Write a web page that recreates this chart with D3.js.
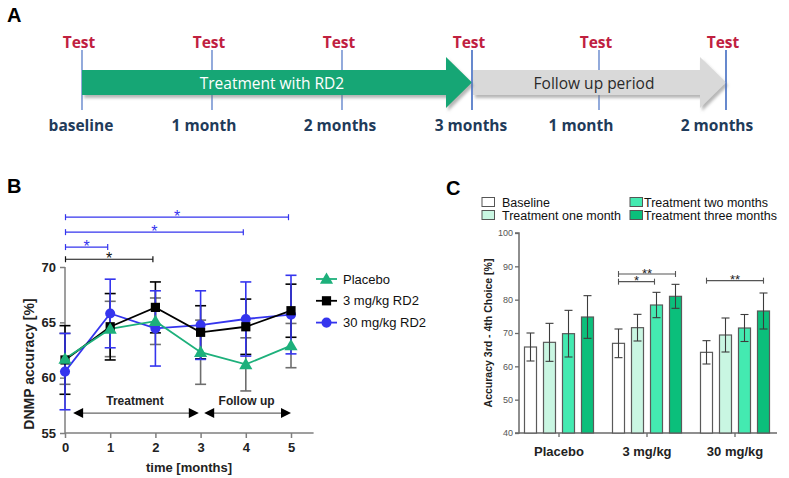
<!DOCTYPE html>
<html><head><meta charset="utf-8">
<script src="https://cdn.jsdelivr.net/npm/d3@7"></script>
<style>body{margin:0;background:#fff}svg{display:block}</style>
</head><body>
<svg id="chart" width="789" height="478"></svg>
<script>
// ---------- Panel A data ----------
const timelineMonths = [0, 1, 2, 3, 4, 5];
const timelineTests = ["Test", "Test", "Test", "Test", "Test", "Test"];
const timelineLabels = ["baseline", "1 month", "2 months", "3 months", "1 month", "2 months"];
const phaseNames = ["Treatment with RD2", "Follow up period"];
const phaseRanges = [[0, 3], [3, 5]];

// ---------- Panel B data ----------
const monthsB = [0, 1, 2, 3, 4, 5];
const seriesB = ["Placebo", "3 mg/kg RD2", "30 mg/kg RD2"];
const placeboMean = [61.7, 64.4, 65.1, 62.3, 61.2, 62.9];
const placeboErr  = [2.3, 2.5, 2.1, 2.9, 2.4, 2.0];
const mg3Mean     = [61.6, 64.6, 66.35, 64.1, 64.6, 66.05];
const mg3Err      = [3.1, 3.0, 2.3, 2.4, 2.5, 2.4];
const mg30Mean    = [60.55, 65.8, 64.45, 64.75, 65.3, 65.7];
const mg30Err     = [3.45, 3.1, 3.4, 3.1, 3.35, 3.55];
const yTicksB = [55, 60, 65, 70];
const xTicksB = [0, 1, 2, 3, 4, 5];
const sigFromB  = [0, 0, 0, 0];
const sigToB    = [5, 4, 1, 2];
const sigLevelB = [74.5, 73.15, 71.8, 70.7];
const sigSeriesB = [2, 2, 2, 1];
const sigLabelB = ["*", "*", "*", "*"];
const periodNamesB = ["Treatment", "Follow up"];
const periodRangesB = [[0.18, 2.96], [3.08, 5.0]];

// ---------- Panel C data ----------
const groupsC = ["Placebo", "3 mg/kg", "30 mg/kg"];
const seriesC = ["Baseline", "Treatment one month", "Treatment two months", "Treatment three months"];
const baselineC   = [65.8, 66.9, 64.2];
const oneMonthC   = [67.2, 71.6, 69.4];
const twoMonthC   = [69.8, 78.4, 71.5];
const threeMonthC = [74.8, 81.0, 76.6];
const baselineErrC   = [4.2, 4.3, 3.5];
const oneMonthErrC   = [5.7, 4.0, 5.1];
const twoMonthErrC   = [7.0, 3.8, 4.05];
const threeMonthErrC = [6.4, 3.6, 5.4];
const yTicksC = [40, 50, 60, 70, 80, 90, 100];
const sigGroupC = [1, 1, 2];
const sigFromC = [0, 0, 0];
const sigToC = [3, 2, 3];
const sigLevelC = [87.7, 85.4, 85.7];
const sigLabelC = ["**", "*", "**"];

// ---------- drawing ----------
const svg = d3.select("#chart");
const AR = "Arial, 'Liberation Sans', sans-serif";
const OS = "'Open Sans', 'Noto Sans', sans-serif";

// defs
const defs = svg.append("defs");
const f = defs.append("filter").attr("id", "shadow").attr("x", "-10%").attr("y", "-30%").attr("width", "130%").attr("height", "180%");
f.append("feDropShadow").attr("dx", 2).attr("dy", 3).attr("stdDeviation", 1.8).attr("flood-color", "#7a7a7a").attr("flood-opacity", 0.55);

// ===== Panel A =====
svg.append("text").attr("x", 7).attr("y", 22).attr("font-family", AR).attr("font-weight", "bold").attr("font-size", 20).text("A");
const xA = d3.scaleLinear().domain([0, 3, 5]).range([82, 472, 726]);
const cyA = 82.5;
const gA = svg.append("g");
// test lines
gA.selectAll("line.tl").data(timelineMonths).join("line")
  .attr("x1", d => xA(d)).attr("x2", d => xA(d)).attr("y1", 50).attr("y2", 110)
  .attr("stroke", "#4a72c4").attr("stroke-width", 1.2);
// arrows
const arrowColors = ["#12a674", "#d9d9d9"];
const arrowPath = (x0, tip) => {
  const hs = tip - 26, bh = 12.5, hh = 25.5;
  return `M${x0},${cyA - bh}L${hs},${cyA - bh}L${hs},${cyA - hh}L${tip},${cyA}L${hs},${cyA + hh}L${hs},${cyA + bh}L${x0},${cyA + bh}Z`;
};
[1, 0].forEach(i => {
  gA.append("path").attr("d", arrowPath(xA(phaseRanges[i][0]) + (i === 1 ? 1 : 0), xA(phaseRanges[i][1])))
    .attr("fill", arrowColors[i]).attr("filter", "url(#shadow)");
});
// re-draw lines visible at tips
gA.selectAll("line.tip").data([3, 5]).join("line")
  .attr("x1", d => xA(d)).attr("x2", d => xA(d)).attr("y1", 50).attr("y2", 110)
  .attr("stroke", "#4a72c4").attr("stroke-width", 1.2);
gA.selectAll("text.phase").data(phaseNames).join("text")
  .attr("x", (d, i) => (xA(phaseRanges[i][0]) + xA(phaseRanges[i][1])) / 2 - 5)
  .attr("y", 88.5).attr("text-anchor", "middle")
  .attr("font-family", OS).attr("font-size", 15.5)
  .attr("fill", (d, i) => i === 0 ? "#ffffff" : "#2a2a2a").text(d => d);
gA.selectAll("text.test").data(timelineTests).join("text")
  .attr("x", (d, i) => xA(timelineMonths[i]) - 3).attr("y", 48).attr("text-anchor", "middle")
  .attr("font-family", OS).attr("font-weight", "bold").attr("font-size", 15.5)
  .attr("fill", "#c0203f").text(d => d);
const labelDx = [-1, -8, -2, -1, -18, -9];
gA.selectAll("text.tlab").data(timelineLabels).join("text")
  .attr("x", (d, i) => xA(timelineMonths[i]) + labelDx[i]).attr("y", 131).attr("text-anchor", "middle")
  .attr("font-family", OS).attr("font-weight", "bold").attr("font-size", 15.5)
  .attr("fill", "#1f3b5a").text(d => d);

// ===== Panel B =====
svg.append("text").attr("x", 7).attr("y", 193).attr("font-family", AR).attr("font-weight", "bold").attr("font-size", 20).text("B");
const xB = d3.scaleLinear().domain([0, 5.5]).range([65, 313.6]);
const yB = d3.scaleLinear().domain([55, 70]).range([433, 267]);
const axisCol = "#7f7f7f";
const gyB = svg.append("g").attr("transform", `translate(${xB(0)},0)`)
  .call(d3.axisLeft(yB).tickValues(yTicksB).tickSize(5).tickFormat(d3.format("d")));
const gxB = svg.append("g").attr("transform", `translate(0,${yB(55)})`)
  .call(d3.axisBottom(xB).tickValues(xTicksB).tickSize(5).tickFormat(d3.format("d")));
[gyB, gxB].forEach(g => {
  g.selectAll("path,line").attr("stroke", axisCol).attr("stroke-width", 1.5);
  g.select(".domain").attr("d", null);
  g.selectAll("text").attr("font-family", AR).attr("font-weight", "bold").attr("font-size", 13).attr("fill", "#222");
});
gyB.select(".domain").remove();
gxB.select(".domain").remove();
svg.append("line").attr("x1", xB(0)).attr("x2", xB(0)).attr("y1", yB(70)).attr("y2", yB(55)).attr("stroke", axisCol).attr("stroke-width", 1.5);
svg.append("line").attr("x1", xB(0)).attr("x2", xB(5.5)).attr("y1", yB(55)).attr("y2", yB(55)).attr("stroke", axisCol).attr("stroke-width", 1.5);
gyB.selectAll("text").attr("dx", -1);
gxB.selectAll("text").attr("dy", "0.85em");

svg.append("text").attr("transform", `translate(34,${(yB(55) + yB(70)) / 2 + 14}) rotate(-90)`)
  .attr("text-anchor", "middle").attr("font-family", AR).attr("font-weight", "bold").attr("font-size", 14).attr("fill", "#222")
  .text("DNMP accuracy [%]");
svg.append("text").attr("x", 189).attr("y", 472).attr("text-anchor", "middle")
  .attr("font-family", AR).attr("font-weight", "bold").attr("font-size", 13).attr("fill", "#222")
  .text("time [months]");

const colorsB = ["#1db07b", "#000000", "#3535ee"];
const errColorsB = ["#6e6e6e", "#000000", "#3535ee"];
const meansB = [placeboMean, mg3Mean, mg30Mean];
const errsB = [placeboErr, mg3Err, mg30Err];
const cap = 5.5;
// error bars
[0, 1, 2].forEach(s => {
  const g = svg.append("g").attr("stroke", errColorsB[s]).attr("stroke-width", 1.6);
  monthsB.forEach((m, i) => {
    const x = xB(m), hi = yB(meansB[s][i] + errsB[s][i]), lo = yB(meansB[s][i] - errsB[s][i]);
    g.append("line").attr("x1", x).attr("x2", x).attr("y1", hi).attr("y2", lo);
    g.append("line").attr("x1", x - cap).attr("x2", x + cap).attr("y1", hi).attr("y2", hi);
    g.append("line").attr("x1", x - cap).attr("x2", x + cap).attr("y1", lo).attr("y2", lo);
  });
});
const symbolsB = [d3.symbolTriangle, d3.symbolSquare, d3.symbolCircle];
const sizesB = [75, 85, 80];
const lineB = s => d3.line().x((d, i) => xB(monthsB[i])).y(d => yB(d))(meansB[s]);
[2, 1, 0].forEach(s => {
  svg.append("path").attr("d", lineB(s)).attr("fill", "none").attr("stroke", colorsB[s]).attr("stroke-width", 1.8);
});
[2, 1, 0].forEach(s => {
  svg.append("g").selectAll("path").data(meansB[s]).join("path")
    .attr("transform", (d, i) => `translate(${xB(monthsB[i])},${yB(d) + (s === 0 ? 1 : 0)})`)
    .attr("d", d3.symbol(symbolsB[s], sizesB[s])).attr("fill", colorsB[s]);
});
// significance B
sigLevelB.forEach((lv, i) => {
  const c = sigSeriesB[i] === 2 ? "#3535ee" : "#111";
  const x1 = xB(sigFromB[i]) + 0.5, x2 = xB(sigToB[i]) - 2.5, y = yB(lv);
  const g = svg.append("g").attr("stroke", c).attr("stroke-width", 1.2);
  g.append("line").attr("x1", x1).attr("x2", x2).attr("y1", y).attr("y2", y);
  g.append("line").attr("x1", x1).attr("x2", x1).attr("y1", y - 3).attr("y2", y + 3);
  g.append("line").attr("x1", x2).attr("x2", x2).attr("y1", y - 3).attr("y2", y + 3);
  svg.append("text").attr("x", (x1 + x2) / 2).attr("y", y + 4.5).attr("text-anchor", "middle")
    .attr("font-family", AR).attr("font-size", 16).attr("fill", c).text(sigLabelB[i]);
});
// period arrows B
periodNamesB.forEach((name, i) => {
  const x1 = xB(periodRangesB[i][0]), x2 = xB(periodRangesB[i][1]), y = yB(56.8);
  svg.append("line").attr("x1", x1 + 8).attr("x2", x2 - 8).attr("y1", y).attr("y2", y).attr("stroke", "#666").attr("stroke-width", 1.2);
  svg.append("path").attr("d", `M${x1},${y}L${x1 + 10},${y - 5}L${x1 + 10},${y + 5}Z`).attr("fill", "#000");
  svg.append("path").attr("d", `M${x2},${y}L${x2 - 10},${y - 5}L${x2 - 10},${y + 5}Z`).attr("fill", "#000");
  svg.append("text").attr("x", (x1 + x2) / 2 + (i === 0 ? -1 : -1)).attr("y", yB(57.5)).attr("text-anchor", "middle")
    .attr("font-family", AR).attr("font-weight", "bold").attr("font-size", 12).attr("fill", "#222").text(name);
});
// legend B
seriesB.forEach((name, i) => {
  const y = 279 + i * 21.8;
  svg.append("line").attr("x1", 316).attr("x2", 337).attr("y1", y).attr("y2", y).attr("stroke", colorsB[i]).attr("stroke-width", 1.8);
  svg.append("path").attr("transform", `translate(326.5,${y + (i === 0 ? 1 : 0)})`).attr("d", d3.symbol(symbolsB[i], sizesB[i]))
    .attr("fill", colorsB[i]);
  svg.append("text").attr("x", 343).attr("y", y + 4.5).attr("font-family", AR).attr("font-size", 13).attr("fill", "#111").text(name);
});

// ===== Panel C =====
svg.append("text").attr("x", 446).attr("y", 195).attr("font-family", AR).attr("font-weight", "bold").attr("font-size", 20).text("C");
const x0C = d3.scaleBand().domain(groupsC).range([515, 779]);
const x1C = d3.scaleBand().domain(seriesC).range([0, x0C.bandwidth() - 12]).paddingInner(0.368).paddingOuter(0.184);
const yC = d3.scaleLinear().domain([40, 100]).range([433, 233]);
const colorsC = ["#ffffff", "#c9f6e2", "#44eab1", "#0bbf7b"];
const valsC = [baselineC, oneMonthC, twoMonthC, threeMonthC];
const errsC = [baselineErrC, oneMonthErrC, twoMonthErrC, threeMonthErrC];
const axisColC = "#6a6a6a";
const gyC = svg.append("g").attr("transform", `translate(519,0)`)
  .call(d3.axisLeft(yC).tickValues(yTicksC).tickSize(4));
gyC.selectAll("line").attr("stroke", axisColC).attr("stroke-width", 1.3);
gyC.select(".domain").attr("stroke", axisColC).attr("stroke-width", 1.5).attr("d", `M-4,${yC(100)}H0V${yC(40)}H-4`);
gyC.selectAll("text").attr("font-family", AR).attr("font-size", 9).attr("fill", "#555").attr("dx", 1);
const gxC = svg.append("g").attr("transform", `translate(0,${yC(40)})`)
  .call(d3.axisBottom(x0C).tickSize(4));
gxC.select(".domain").attr("stroke", axisColC).attr("stroke-width", 1.5).attr("d", `M519,0H777`);
gxC.selectAll("line").attr("stroke", axisColC).attr("stroke-width", 1.3);
gxC.selectAll("text").attr("font-family", AR).attr("font-weight", "bold").attr("font-size", 13).attr("fill", "#222").attr("dy", "1.2em");

svg.append("text").attr("transform", `translate(492,${(yC(40) + yC(100)) / 2}) rotate(-90)`)
  .attr("text-anchor", "middle").attr("font-family", AR).attr("font-weight", "bold").attr("font-size", 10.5).attr("fill", "#222")
  .text("Accuracy 3rd - 4th Choice [%]");

const barX = (g, s) => x0C(groupsC[g]) + 6 + x1C(seriesC[s]);
seriesC.forEach((sName, s) => {
  const g = svg.append("g");
  g.selectAll("rect").data(valsC[s]).join("rect")
    .attr("x", (d, gi) => barX(gi, s)).attr("width", x1C.bandwidth())
    .attr("y", d => yC(d)).attr("height", d => yC(40) - yC(d))
    .attr("fill", colorsC[s]).attr("stroke", "#5a5a5a").attr("stroke-width", 1.2);
  const ge = svg.append("g").attr("stroke", "#3c3c3c").attr("stroke-width", 1.1);
  valsC[s].forEach((v, gi) => {
    const cx = barX(gi, s) + x1C.bandwidth() / 2, hi = yC(v + errsC[s][gi]), lo = yC(v - errsC[s][gi]);
    ge.append("line").attr("x1", cx).attr("x2", cx).attr("y1", hi).attr("y2", lo);
    ge.append("line").attr("x1", cx - 4).attr("x2", cx + 4).attr("y1", hi).attr("y2", hi);
    ge.append("line").attr("x1", cx - 4).attr("x2", cx + 4).attr("y1", lo).attr("y2", lo);
  });
});
// significance C
sigLevelC.forEach((lv, i) => {
  const gi = sigGroupC[i];
  const xa = barX(gi, sigFromC[i]) + x1C.bandwidth() / 2, xb = barX(gi, sigToC[i]) + x1C.bandwidth() / 2 - (sigToC[i] === 2 ? 2 : 0);
  const y = yC(lv);
  const g = svg.append("g").attr("stroke", "#555").attr("stroke-width", 1.1);
  g.append("line").attr("x1", xa).attr("x2", xb).attr("y1", y).attr("y2", y);
  g.append("line").attr("x1", xa).attr("x2", xa).attr("y1", y - 3).attr("y2", y + 3);
  g.append("line").attr("x1", xb).attr("x2", xb).attr("y1", y - 3).attr("y2", y + 3);
  svg.append("text").attr("x", (xa + xb) / 2).attr("y", y + 3.5).attr("text-anchor", "middle")
    .attr("font-family", AR).attr("font-size", 13).attr("fill", "#222").text(sigLabelC[i]);
});
// legend C
seriesC.forEach((name, i) => {
  const col = i < 2 ? 0 : 1, row = i % 2;
  const x = col === 0 ? 482 : 630, y = 202 + row * 13;
  svg.append("rect").attr("x", x).attr("y", y - 4.5).attr("width", 12.5).attr("height", 9)
    .attr("fill", colorsC[i]).attr("stroke", "#555").attr("stroke-width", 1);
  svg.append("text").attr("x", x + (col === 0 ? 20 : 14)).attr("y", y + 4.5).attr("font-family", AR).attr("font-size", 12.5)
    .attr("fill", "#111").text(name);
});
</script>
</body></html>
